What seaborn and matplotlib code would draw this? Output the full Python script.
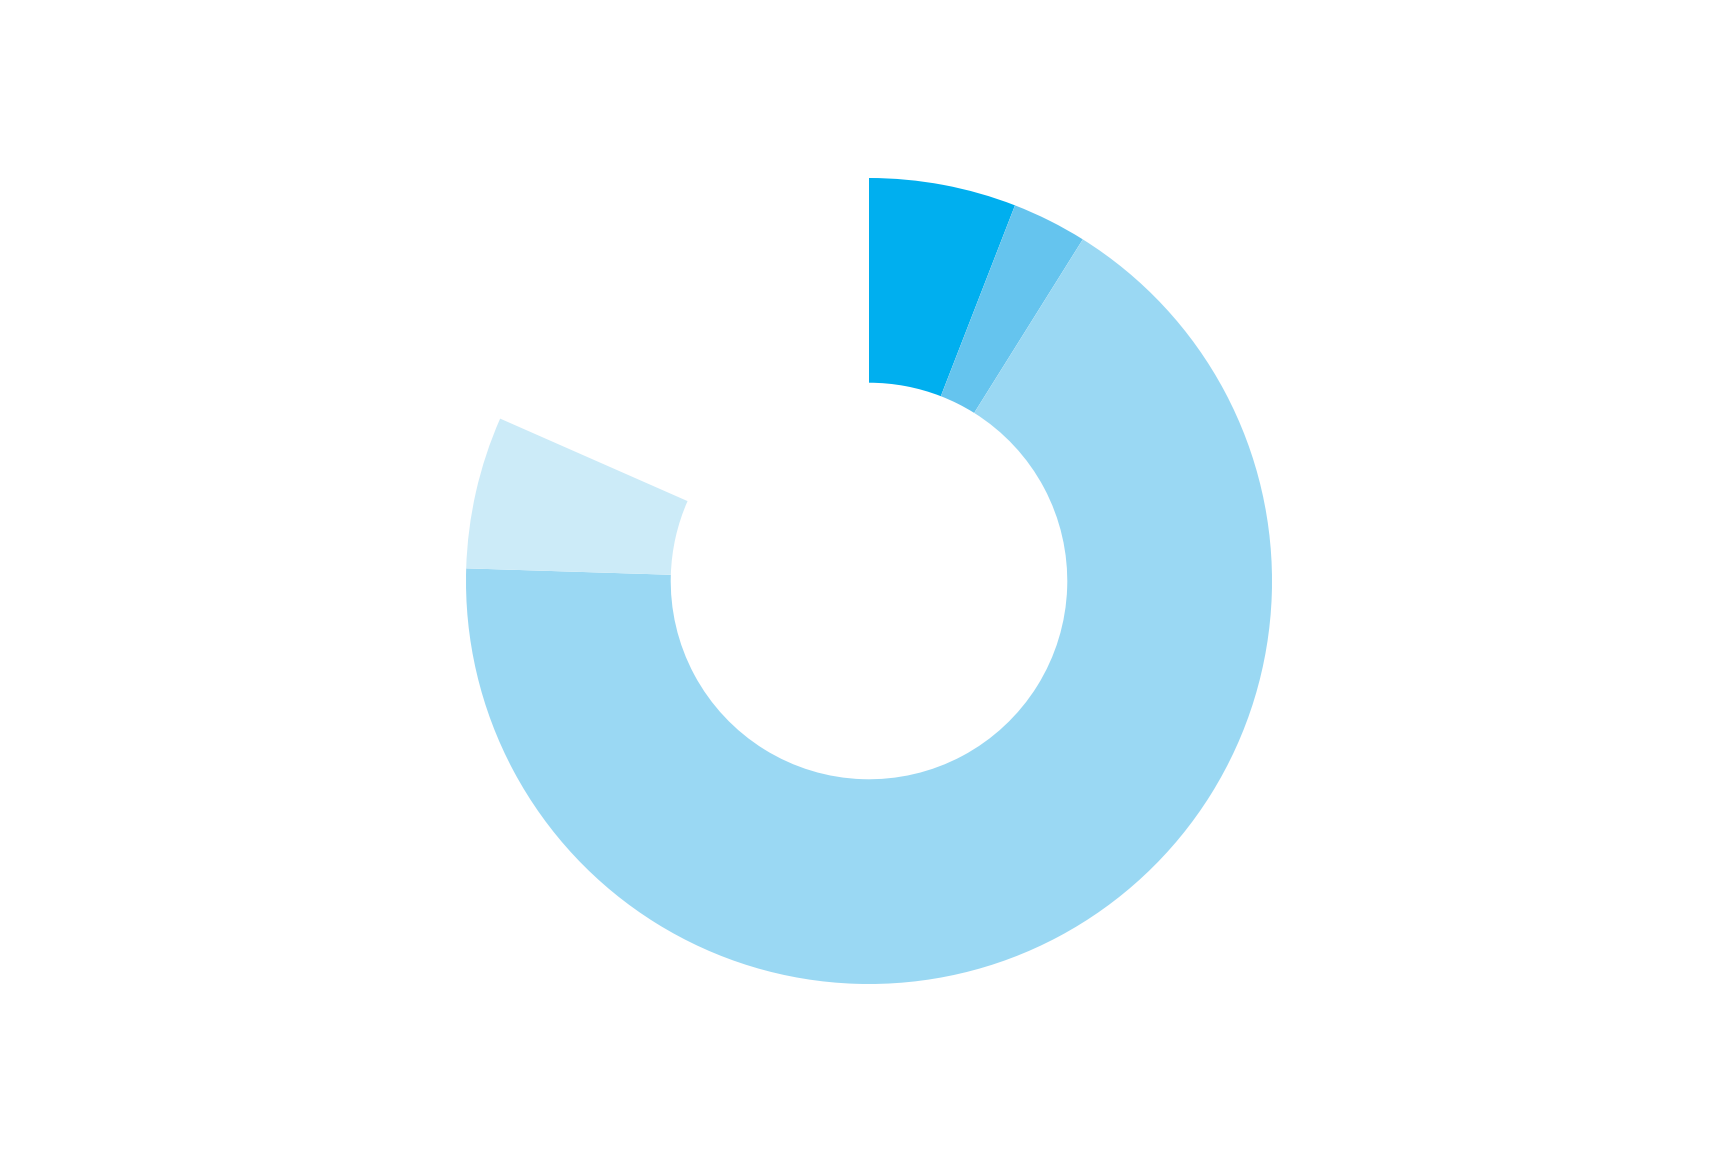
import matplotlib
matplotlib.use("Agg")
import matplotlib.pyplot as plt
import seaborn as sns

# segment shares (percent), the last one is the empty part of the ring
labels = ["A", "B", "C", "D", "rest"]
values = [5.9, 3.0, 66.6, 6.1, 18.4]
colors = ["#00AFEF", "#65C4EE", "#9AD8F3", "#CCEBF8", "none"]

sns.set_theme(style="white")

W, H = 1713, 1151
fig = plt.figure(figsize=(W / 100, H / 100), dpi=100)

# ring centre and outer radius in pixels
cx, cy, r = 869, 581, 403
ax = fig.add_axes([(cx - r) / W, (H - cy - r) / H, 2 * r / W, 2 * r / H])

wedges, _ = ax.pie(
    values,
    colors=colors,
    startangle=90,
    counterclock=False,
    radius=1.0,
    wedgeprops=dict(width=0.508, linewidth=0),
)
ax.set_xlim(-1, 1)
ax.set_ylim(-1, 1)
ax.set_aspect("equal")
ax.axis("off")

fig.savefig("out.png", dpi=100, facecolor="white")
plt.close(fig)
